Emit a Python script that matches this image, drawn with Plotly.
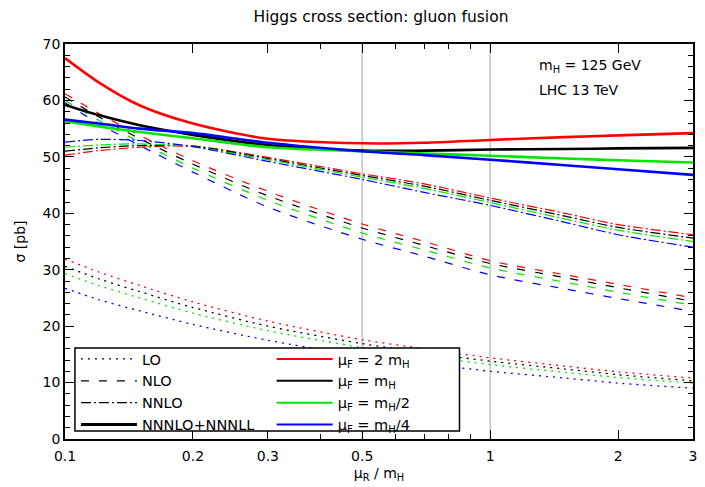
import plotly.graph_objects as go

# mu_R / m_H sample points
x = [0.1, 0.12, 0.15, 0.2, 0.3, 0.5, 0.7, 1, 1.5, 2, 3]

# LO (dotted)
lo_red =   [31.9, 29.6, 27.2, 24.3, 20.9, 17.6, 16.0, 14.4, 12.9, 11.9, 10.8]
lo_black = [30.6, 28.4, 26.1, 23.3, 20.0, 16.9, 15.3, 13.8, 12.4, 11.4, 10.3]
lo_green = [29.3, 27.2, 25.0, 22.3, 19.2, 16.2, 14.7, 13.2, 11.8, 10.9, 9.9]
lo_blue =  [26.7, 24.7, 22.7, 20.3, 17.5, 14.7, 13.4, 12.0, 10.8, 9.9, 9.0]

# NLO (dashed)
nlo_red =   [61.2, 57.7, 53.8, 49.3, 43.9, 38.1, 35.0, 31.6, 29.1, 27.4, 25.0]
nlo_black = [60.6, 57.1, 53.2, 48.7, 43.1, 37.4, 34.3, 31.1, 28.6, 26.8, 24.4]
nlo_green = [60.0, 56.5, 52.6, 48.0, 42.3, 36.5, 33.5, 30.3, 27.8, 26.0, 23.7]
nlo_blue =  [59.6, 55.9, 52.0, 47.3, 41.1, 35.4, 32.4, 29.1, 26.6, 24.9, 22.6]

# NNLO (dash-dot)
nnlo_red =   [50.3, 51.1, 51.7, 51.9, 49.9, 47.0, 45.2, 42.7, 40.0, 38.0, 36.2]
nnlo_black = [51.0, 51.6, 52.0, 51.9, 49.7, 46.7, 44.8, 42.3, 39.5, 37.5, 35.6]
nnlo_green = [51.7, 52.1, 52.3, 51.8, 49.5, 46.4, 44.4, 41.9, 39.0, 37.0, 35.0]
nnlo_blue =  [52.6, 53.1, 52.9, 51.8, 49.2, 46.0, 43.7, 41.4, 38.4, 36.2, 34.0]

# NNNLO+NNNLL (thick solid)
n3_red =   [67.5, 63.2, 59.1, 55.9, 53.2, 52.4, 52.5, 53.0, 53.5, 53.8, 54.2]
n3_black = [59.2, 57.4, 55.6, 53.9, 52.1, 51.1, 51.1, 51.3, 51.4, 51.5, 51.6]
n3_green = [56.3, 55.4, 54.4, 53.3, 51.7, 51.0, 50.6, 50.2, 49.7, 49.4, 49.0]
n3_blue =  [56.6, 55.9, 55.0, 54.2, 52.5, 51.0, 50.3, 49.5, 48.5, 47.8, 46.8]

colors = ["#ff0000", "#000000", "#00e600", "#0000ff"]
mu_labels = ["μ<sub>F</sub> = 2 m<sub>H</sub>", "μ<sub>F</sub> = m<sub>H</sub>",
             "μ<sub>F</sub> = m<sub>H</sub>/2", "μ<sub>F</sub> = m<sub>H</sub>/4"]
order_labels = ["LO", "NLO", "NNLO", "NNNLO+NNNLL"]

xticks = [0.1, 0.2, 0.3, 0.5, 1, 2, 3]
xtick_text = ["0.1", "0.2", "0.3", "0.5", "1", "2", "3"]
xminor = [0.4, 0.6, 0.7, 0.8, 0.9]
vlines = [0.5, 1]

FONT = "DejaVu Sans"
dot = "2px,5px"
dash = "8px,10px"
dashdot = "10px,3px,2px,3px"

groups = [
    ([lo_red, lo_black, lo_green, lo_blue], dot, 1.3),
    ([nlo_red, nlo_black, nlo_green, nlo_blue], dash, 1.2),
    ([nnlo_red, nnlo_black, nnlo_green, nnlo_blue], dashdot, 1.2),
    ([n3_red, n3_black, n3_green, n3_blue], "solid", 2.6),
]

fig = go.Figure()
for series, dsh, w in groups:
    for s, c in zip(series, colors):
        fig.add_trace(go.Scatter(x=x, y=s, mode="lines", showlegend=False,
                                 line=dict(color=c, width=w, dash=dsh, shape="spline", smoothing=0.8),
                                 hoverinfo="skip"))

# legend keys
for lab, (_, dsh, w) in zip(order_labels, groups):
    fig.add_trace(go.Scatter(x=[None], y=[None], mode="lines", name=lab, legend="legend",
                             line=dict(color="black", width=(3 if dsh == "solid" else 1.2), dash=dsh)))
for lab, c in zip(mu_labels, colors):
    fig.add_trace(go.Scatter(x=[None], y=[None], mode="lines", name=lab, legend="legend2",
                             line=dict(color=c, width=2)))

for v in vlines:
    fig.add_shape(type="line", xref="x", yref="paper", x0=v, x1=v, y0=0, y1=1,
                  line=dict(color="#b4b4b4", width=1.2), layer="below")

# legend frame (white box)
fig.add_shape(type="rect", xref="paper", yref="paper",
              x0=(75 - 65) / 632, x1=(462 - 65) / 632,
              y0=(439 - 431) / 395, y1=(439 - 348) / 395,
              line=dict(color="black", width=1.5), fillcolor="white", layer="above")

legend_common = dict(bgcolor="rgba(0,0,0,0)", borderwidth=0, itemwidth=56,
                     font=dict(family=FONT, size=14.5, color="black"),
                     xanchor="left", yanchor="top", tracegroupgap=0)
fig.update_layout(
    legend=dict(x=(76 - 65) / 632, y=(439 - 343) / 395, **legend_common),
    legend2=dict(x=(273 - 65) / 632, y=(439 - 343) / 395, **legend_common),
)

fig.update_layout(
    width=705, height=487,
    margin=dict(l=65, r=8, t=44, b=48),
    plot_bgcolor="white", paper_bgcolor="white",
    font=dict(family=FONT, size=14, color="black"),
    title=dict(text="Higgs cross section: gluon fusion", x=(65 + 697) / 2 / 705, xanchor="center",
               y=1 - 17 / 487, yanchor="middle", font=dict(family=FONT, size=15.5)),
    xaxis=dict(type="log", range=[-1, 0.47712], tickvals=xticks, ticktext=xtick_text,
               ticks="inside", ticklen=9, tickwidth=1, tickcolor="black",
               showline=True, linecolor="black", linewidth=1.5, mirror="ticks",
               showgrid=False, zeroline=False, ticklabelstandoff=3,
               minor=dict(tickvals=xminor, ticks="inside", ticklen=5, tickcolor="black", showgrid=False),
               title=dict(text="μ<sub>R</sub> / m<sub>H</sub>", font=dict(size=14), standoff=6),
               tickfont=dict(size=14)),
    yaxis=dict(range=[0, 70], tickvals=[0, 10, 20, 30, 40, 50, 60, 70],
               ticks="inside", ticklen=9, tickwidth=1, tickcolor="black",
               showline=True, linecolor="black", linewidth=1.5, mirror="ticks",
               showgrid=False, zeroline=False,
               minor=dict(dtick=2, ticks="inside", ticklen=5, tickcolor="black", showgrid=False),
               title=dict(text="σ [pb]", font=dict(size=14), standoff=14),
               tickfont=dict(size=14)),
)

fig.add_annotation(xref="paper", yref="paper", x=(540 - 65) / 632, y=(439 - 66) / 395,
                   text="m<sub>H</sub> = 125 GeV", showarrow=False, xanchor="left", yanchor="middle",
                   font=dict(family=FONT, size=14))
fig.add_annotation(xref="paper", yref="paper", x=(540 - 65) / 632, y=(439 - 90) / 395,
                   text="LHC 13 TeV", showarrow=False, xanchor="left", yanchor="middle",
                   font=dict(family=FONT, size=14))

fig.write_html("out.html")
